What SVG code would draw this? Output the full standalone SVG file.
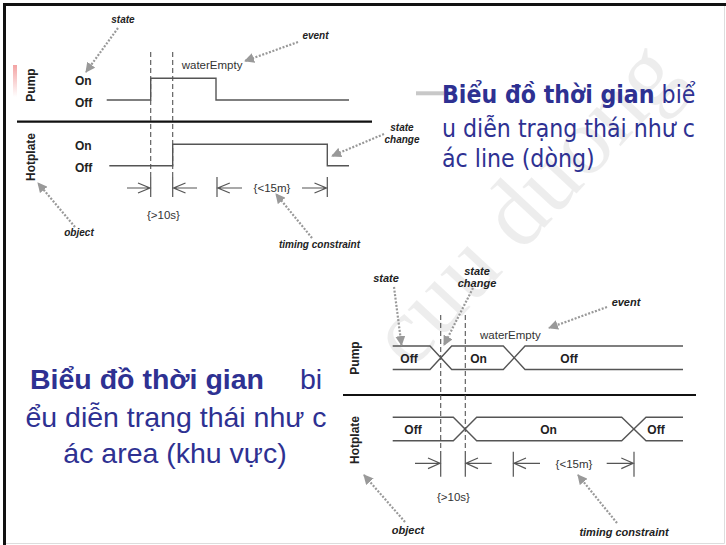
<svg xmlns="http://www.w3.org/2000/svg" width="726" height="545" viewBox="0 0 726 545">
<style>
.sig{fill:none;stroke:#555;stroke-width:1.4}
.dash{fill:none;stroke:#555;stroke-width:1.1;stroke-dasharray:5 3}
.sep{stroke:#111;stroke-width:2.2}
.tk{fill:none;stroke:#555;stroke-width:1.2}
.note{fill:none;stroke:#999;stroke-width:2.2;stroke-dasharray:2 1.6;marker-end:url(#dh)}
.lbl{font-family:"Liberation Sans",Arial,sans-serif;font-weight:bold;font-size:12px;fill:#222}
.reg{font-family:"Liberation Sans",Arial,sans-serif;font-size:11.5px;fill:#333}
.ann{font-family:"Liberation Sans",Arial,sans-serif;font-weight:bold;font-style:italic;font-size:10px;fill:#222;text-anchor:middle}
.ann2{font-family:"Liberation Sans",Arial,sans-serif;font-weight:bold;font-style:italic;font-size:11px;fill:#222;text-anchor:middle}
.mid{text-anchor:middle}
.tr{font-family:"DejaVu Sans Condensed","DejaVu Sans",sans-serif;font-size:24.6px;fill:#2e3192}
.bl{font-family:"Liberation Sans",Arial,sans-serif;font-size:28.5px;fill:#2e3192}
</style>
<defs>
<marker id="dh" viewBox="0 0 10 10" refX="9" refY="5" markerWidth="10" markerHeight="10" markerUnits="userSpaceOnUse" orient="auto">
<path d="M0,0 L10,5 L0,10 z" fill="#999"/>
</marker>
<linearGradient id="pk" x1="0" y1="0" x2="0" y2="1">
<stop offset="0" stop-color="#f3a3a3"/>
<stop offset="1" stop-color="#fff"/>
</linearGradient>
</defs>
<rect x="0" y="0" width="726" height="545" fill="#fff"/>
<!-- watermark -->
<text x="410" y="372" transform="rotate(-47 410 372)" font-family="Liberation Serif,serif" font-size="96" fill="#000" fill-opacity="0.07">cuu duong</text>
<!-- frame -->
<path d="M4.5,545 V4.5 H726" fill="none" stroke="#111" stroke-width="3"/>
<path d="M724.5,6 V543.5 H6" fill="none" stroke="#ddd" stroke-width="1"/>
<rect x="13" y="65" width="4" height="32" fill="url(#pk)"/>

<!-- top diagram -->
<g id="top-diagram">
<g id="top-labels">
<text class="lbl" transform="translate(35,85) rotate(-90)" text-anchor="middle">Pump</text>
<text class="lbl" transform="translate(35,157) rotate(-90)" text-anchor="middle">Hotplate</text>
<text class="lbl" x="75" y="85">On</text>
<text class="lbl" x="75" y="107">Off</text>
<text class="lbl" x="75" y="150">On</text>
<text class="lbl" x="75" y="172">Off</text>
</g>
<g id="top-pump"><path class="sig" d="M106.7,100 H150.7 V78.3 H216 V100 H349"/></g>
<g id="top-hotplate"><path class="sig" d="M109.3,165.7 H172.7 V144.3 H327.3 V165.7 H349"/></g>
<line class="sep" x1="17" y1="121.7" x2="372" y2="121.7"/>
<g id="top-connectors">
<line class="dash" x1="150.7" y1="52" x2="150.7" y2="178"/>
<line class="dash" x1="172.7" y1="52" x2="172.7" y2="178"/>
<path class="tk" d="M150.7,177 V197 M172.7,177 V197 M217,177 V197 M327.3,177 V197"/>
<path class="tk" d="M127,188 H150 M138,183 L150,188 L138,193"/>
<path class="tk" d="M173.5,188 H197 M185.5,183 L173.5,188 L185.5,193"/>
<path class="tk" d="M217.8,188 H242 M229.8,183 L217.8,188 L229.8,193"/>
<path class="tk" d="M302,188 H326.5 M314.5,183 L326.5,188 L314.5,193"/>
<path class="note" d="M118,28 L86,72"/>
<path class="note" d="M298,42 L245,61"/>
<path class="note" d="M75,227 L38,183"/>
<path class="note" d="M312,238 L276,194"/>
<path class="note" d="M384,134 L332,156"/>
</g>
<text class="reg" x="181.7" y="68.5" font-size="11">waterEmpty</text>
<text class="reg mid" x="272" y="191.5">{&lt;15m}</text>
<text class="reg mid" x="163.5" y="219">{&gt;10s}</text>
<text class="ann" x="123" y="23">state</text>
<text class="ann" x="315.5" y="39">event</text>
<text class="ann" x="79" y="236">object</text>
<text class="ann" x="319.5" y="248">timing constraint</text>
<text class="ann" x="402" y="131">state</text>
<text class="ann" x="402" y="143">change</text>
</g>

<!-- top-right text -->
<g id="text-line">
<line x1="416" y1="93.3" x2="444" y2="93.3" stroke="#c8c8c8" stroke-width="4"/>
<text class="tr" x="442" y="103"><tspan font-weight="bold">Biểu đồ thời gian</tspan> biể</text>
<text class="tr" x="442" y="136.5">u diễn trạng thái như c</text>
<text class="tr" x="442" y="166.5">ác line (dòng)</text>
</g>

<!-- bottom-left text -->
<g id="text-area">
<text class="bl" x="30" y="389" font-weight="bold">Biểu đồ thời gian</text>
<text class="bl" x="300" y="389">bi</text>
<text class="bl mid" x="176" y="426.5">ểu diễn trạng thái như c</text>
<text class="bl mid" x="175" y="463">ác area (khu vực)</text>
</g>

<!-- bottom diagram -->
<g id="bottom-diagram">
<g id="bottom-labels">
<text class="lbl" transform="translate(359,358) rotate(-90)" text-anchor="middle">Pump</text>
<text class="lbl" transform="translate(359,440) rotate(-90)" text-anchor="middle">Hotplate</text>
</g>
<g id="bottom-pump">
<path class="sig" d="M392.7,346 H430 L451.7,369.5 H503.3 L525,346 H683"/>
<path class="sig" d="M392.7,369.5 H430 L451.7,346 H503.3 L525,369.5 H683"/>
<text class="lbl mid" x="409" y="362.5">Off</text>
<text class="lbl mid" x="478.5" y="362.5">On</text>
<text class="lbl mid" x="569" y="362.5">Off</text>
</g>
<line class="sep" x1="343" y1="395" x2="696" y2="395"/>
<g id="bottom-hotplate">
<path class="sig" d="M392.7,417.3 H453.3 L476.7,440.7 H621.7 L646,417.3 H683"/>
<path class="sig" d="M392.7,440.7 H453.3 L476.7,417.3 H621.7 L646,440.7 H683"/>
<text class="lbl mid" x="413" y="433.5">Off</text>
<text class="lbl mid" x="548.5" y="433.5">On</text>
<text class="lbl mid" x="656" y="433.5">Off</text>
</g>
<g id="bottom-connectors">
<line class="dash" x1="440.7" y1="315" x2="440.7" y2="452"/>
<line class="dash" x1="465.3" y1="315" x2="465.3" y2="452"/>
<path class="tk" d="M440.7,451.7 V476.7 M465.3,451.7 V476.7 M513.3,451.7 V476.7 M634,451.7 V476.7"/>
<path class="tk" d="M415,463.3 H440 M428,458 L440,463.3 L428,468.6"/>
<path class="tk" d="M466,463.3 H491.7 M478,458 L466,463.3 L478,468.6"/>
<path class="tk" d="M514,463.3 H540 M526,458 L514,463.3 L526,468.6"/>
<path class="tk" d="M606.7,463.3 H633.3 M621.3,458 L633.3,463.3 L621.3,468.6"/>
<path class="note" d="M394,287 L401.5,345"/>
<path class="note" d="M473,288 L444,345"/>
<path class="note" d="M607,307 L549,328"/>
<path class="note" d="M405,522 L364,475"/>
<path class="note" d="M617,523 L578,475"/>
</g>
<text class="reg" x="480" y="339" font-size="12.3">waterEmpty</text>
<text class="reg mid" x="574" y="468" font-size="12">{&lt;15m}</text>
<text class="reg mid" x="453.5" y="500.5" font-size="12.8">{&gt;10s}</text>
<text class="ann2" x="386" y="282">state</text>
<text class="ann2" x="477" y="275">state</text>
<text class="ann2" x="477" y="286.5">change</text>
<text class="ann2" x="626" y="306">event</text>
<text class="ann2" x="408" y="534">object</text>
<text class="ann2" x="624" y="536">timing constraint</text>
</g>
</svg>
